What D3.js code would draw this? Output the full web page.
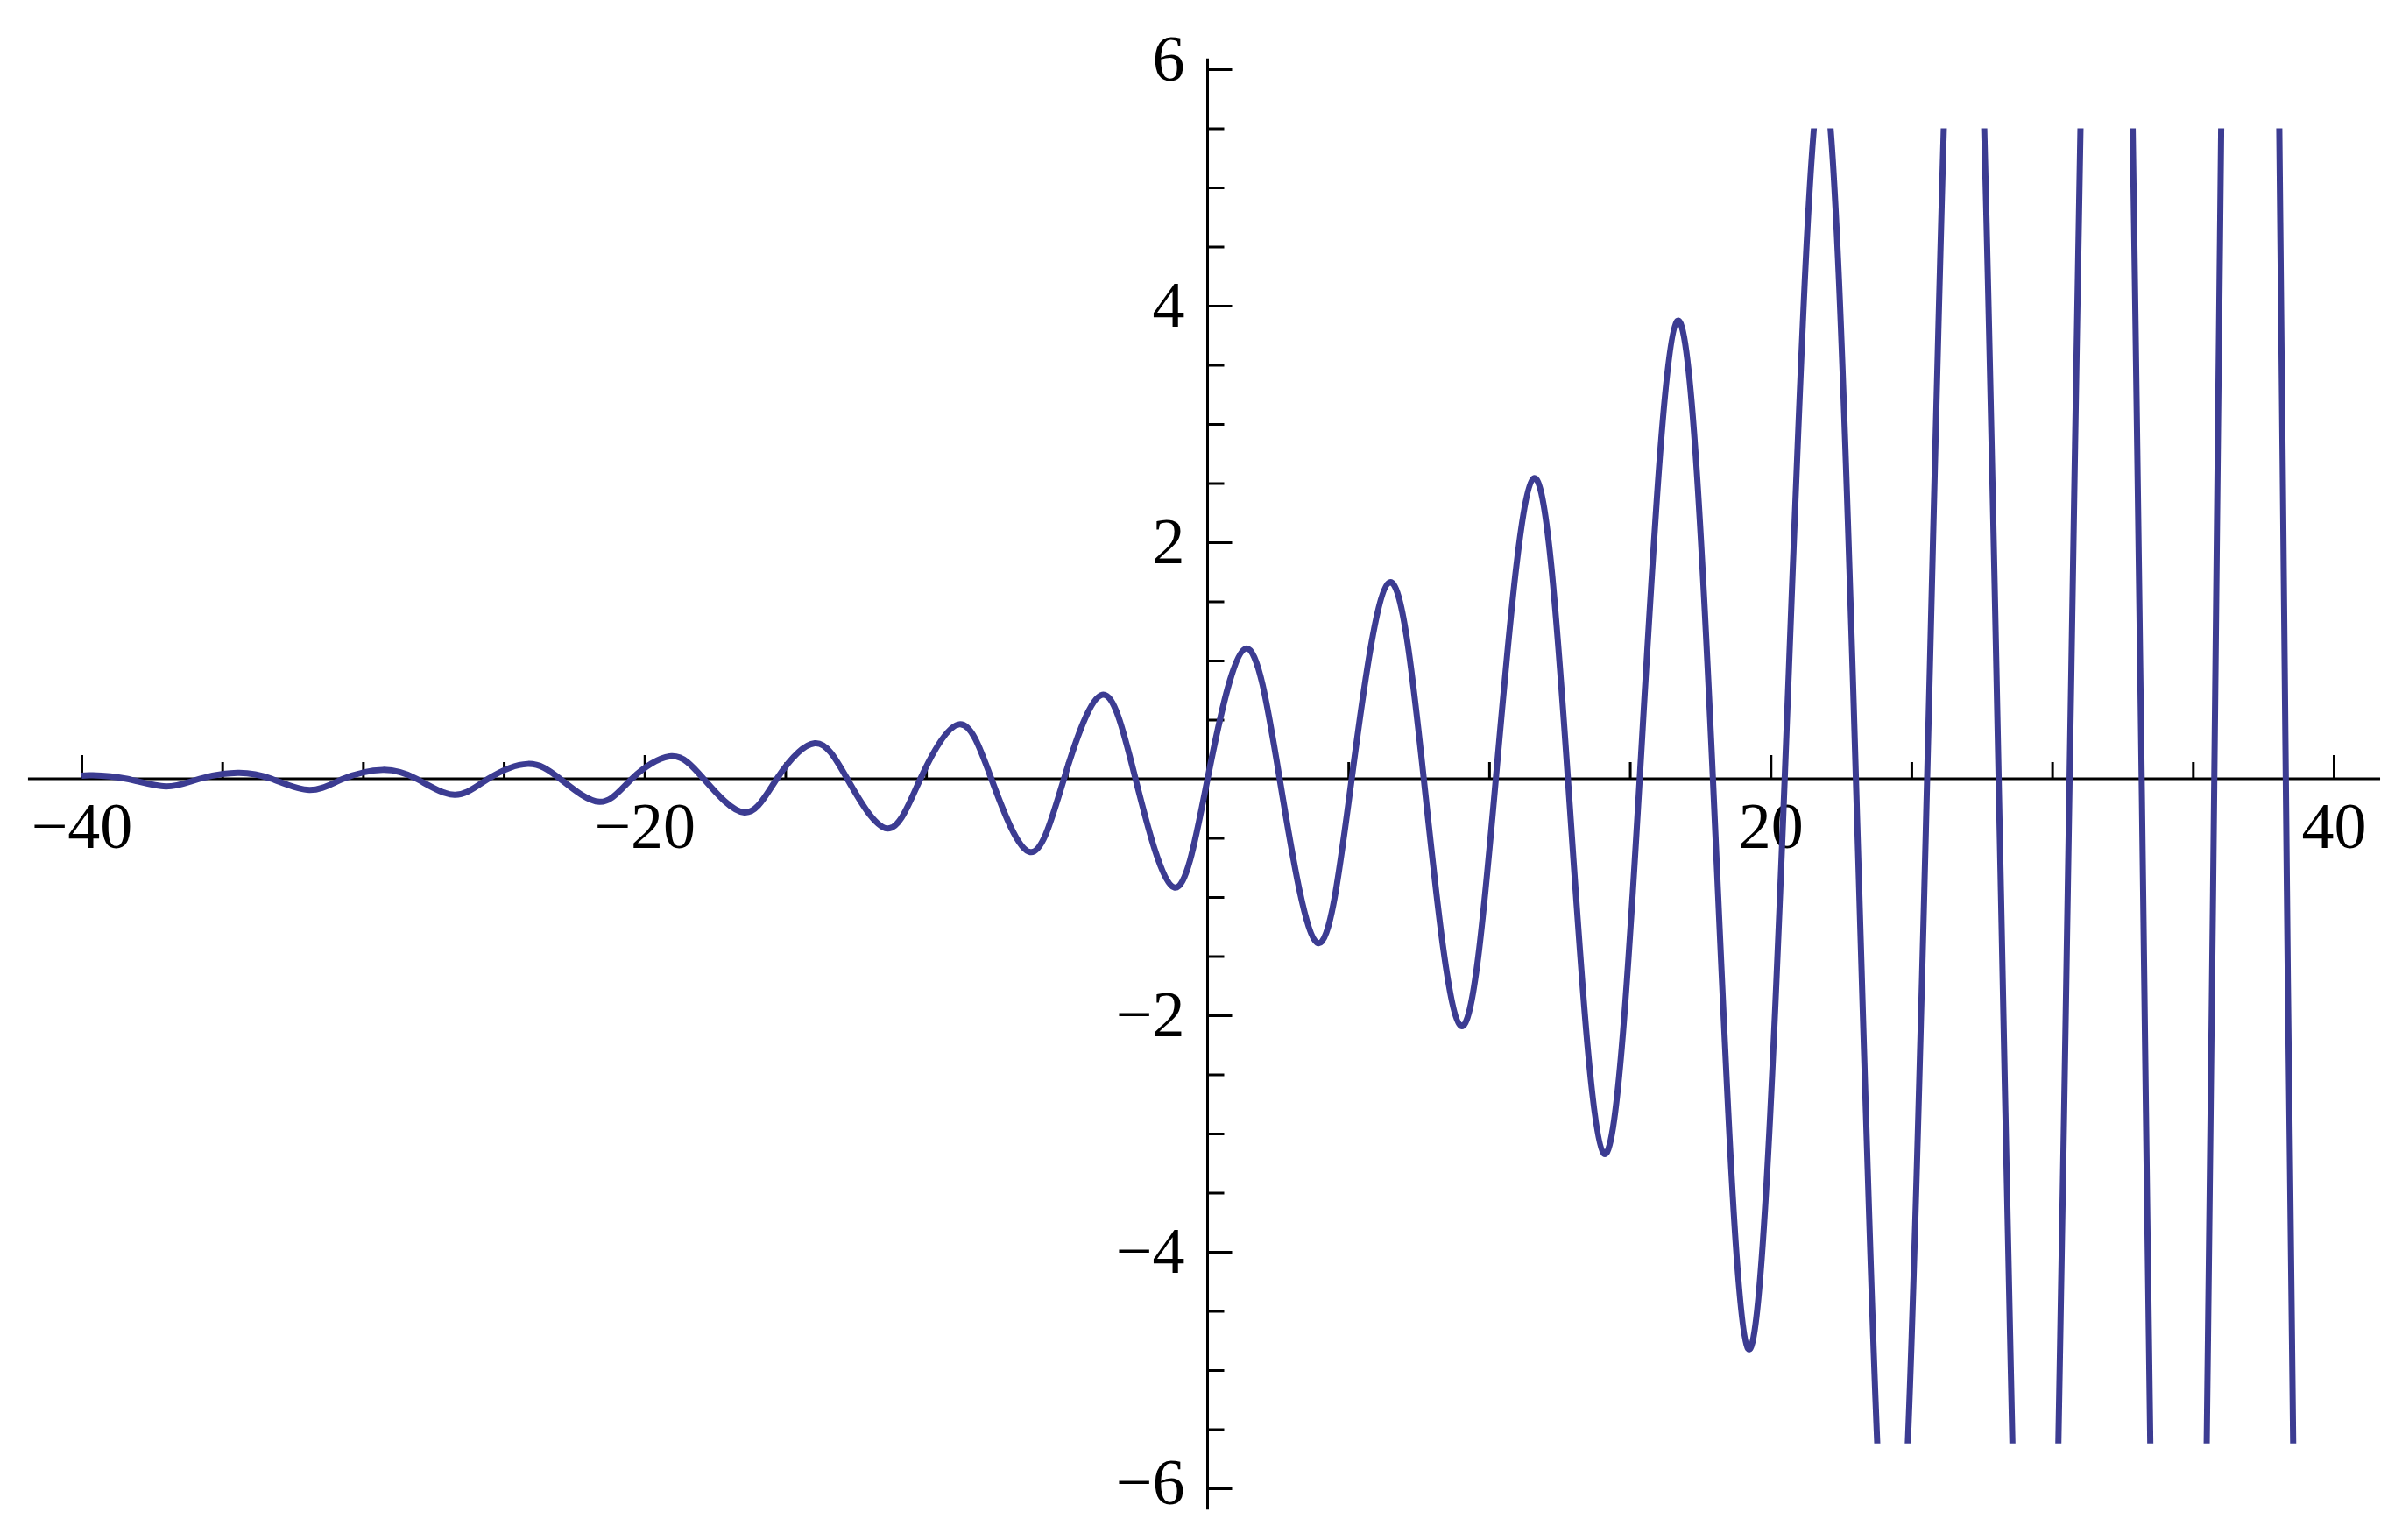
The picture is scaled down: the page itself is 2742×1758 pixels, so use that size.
<!DOCTYPE html>
<html>
<head>
<meta charset="utf-8">
<script src="https://cdn.jsdelivr.net/npm/d3@7"></script>
<style>
  html, body { margin: 0; padding: 0; background: #ffffff; }
  svg { display: block; }
</style>
</head>
<body>
<svg id="chart" width="2742" height="1758"></svg>
<script>
// ---- data ----
const zeroX = [-38.4, -35.8, -33.25, -30.7, -28.1, -25.55, -23.0, -20.45, -17.9, -15.3,
               -12.8, -10.2, -7.68, -5.1, -2.56, 0, 2.56, 5.12, 7.68, 10.24, 12.8, 15.35,
               17.95, 20.5, 23.03, 25.56, 28.1, 30.62, 33.18, 35.76, 38.3];
const extremaX = [-39.6, -37.0, -34.45, -31.9, -29.3, -26.75, -24.15, -21.6, -19.05, -16.45,
                  -13.95, -11.38, -8.82, -6.3, -3.74, -1.18, 1.35, 3.92, 6.46, 9.0, 11.58,
                  14.08, 16.68, 19.2, 21.8, 24.3, 26.85, 29.42, 31.94, 34.45, 37.02, 39.55];
const extremaY = [0.03, -0.065, 0.05, -0.095, 0.075, -0.135, 0.125, -0.195, 0.19, -0.285,
                  0.30, -0.42, 0.46, -0.62, 0.71, -0.92, 1.10, -1.39, 1.66, -2.09, 2.54,
                  -3.17, 3.87, -4.82, 5.95, -7.35, 9.05, -11.3, 13.4, -16.8, 21.0, -26.0];
const endX = [-40, 40];
const endY = [0.026, -22.5];

const xMajorTicks = [-40, -20, 20, 40];
const xMinorTicks = [-35, -30, -25, -15, -10, -5, 5, 10, 15, 25, 30, 35];
const yMajorTicks = [-6, -4, -2, 2, 4, 6];
const yMinorTicks = [-5.5, -5, -4.5, -3.5, -3, -2.5, -1.5, -1, -0.5, 0.5, 1, 1.5, 2.5, 3, 3.5, 4.5, 5, 5.5];
const xAxisExtent = [-41.9, 41.65];
const yAxisExtent = [-6.18, 6.09];
const plotRangeY = [-5.62, 5.5];

// ---- drawing ----
const svg = d3.select("#chart");
const x = d3.scaleLinear().domain([-40, 40]).range([93, 2664]);
const y = d3.scaleLinear().domain([-6, 6]).range([1699, 79]);

const fmt = d => d3.format("d")(d);
const fontFamily = "'Liberation Serif', 'DejaVu Serif', serif";

// curve points
const pts = [];
zeroX.forEach(v => pts.push([v, 0]));
extremaX.forEach((v, i) => pts.push([v, extremaY[i]]));
endX.forEach((v, i) => pts.push([v, endY[i]]));
pts.sort((a, b) => a[0] - b[0]);

svg.append("defs").append("clipPath").attr("id", "clip")
  .append("rect")
  .attr("x", 0).attr("width", 2742)
  .attr("y", y(plotRangeY[1]))
  .attr("height", y(plotRangeY[0]) - y(plotRangeY[1]));

const line = d3.line().x(d => x(d[0])).y(d => y(d[1])).curve(d3.curveNatural);

// x axis
const gx = svg.append("g").attr("transform", `translate(0,${y(0)})`);
gx.append("line")
  .attr("x1", x(xAxisExtent[0])).attr("x2", x(xAxisExtent[1]))
  .attr("y1", 0).attr("y2", 0)
  .attr("stroke", "#000").attr("stroke-width", 3);
gx.append("g").call(
  d3.axisBottom(x).tickValues(xMajorTicks).tickSize(-27).tickPadding(26).tickFormat(fmt));
gx.append("g").call(
  d3.axisBottom(x).tickValues(xMinorTicks).tickSize(-19).tickFormat(""));

// y axis
const gy = svg.append("g").attr("transform", `translate(${x(0)},0)`);
gy.append("line")
  .attr("x1", 0).attr("x2", 0)
  .attr("y1", y(yAxisExtent[1])).attr("y2", y(yAxisExtent[0]))
  .attr("stroke", "#000").attr("stroke-width", 3);
const yMajor = gy.append("g").call(
  d3.axisLeft(y).tickValues(yMajorTicks).tickSize(-28).tickPadding(26).tickFormat(fmt));
gy.append("g").call(
  d3.axisLeft(y).tickValues(yMinorTicks).tickSize(-19).tickFormat(""));

svg.selectAll(".domain").remove();
svg.selectAll(".tick line").attr("stroke", "#000").attr("stroke-width", 3);
svg.selectAll(".tick text")
  .attr("fill", "#000")
  .style("font-family", fontFamily)
  .style("font-size", "74px");
// end labels sit a little higher, as in the reference
yMajor.selectAll(".tick text")
  .attr("y", d => d === 6 ? -11 : (d === -6 ? -6 : 0));

svg.append("path")
  .datum(pts)
  .attr("clip-path", "url(#clip)")
  .attr("fill", "none")
  .attr("stroke", "#3c3c92")
  .attr("stroke-width", 7)
  .attr("stroke-linejoin", "round")
  .attr("d", line);
</script>
</body>
</html>
